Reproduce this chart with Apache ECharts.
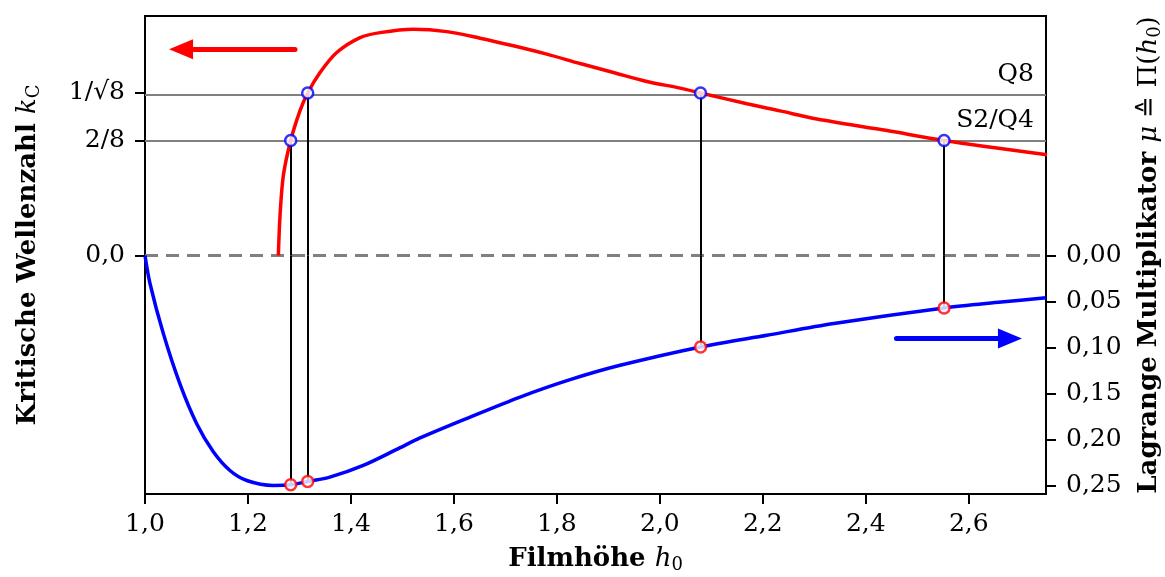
<!DOCTYPE html>
<html>
<head>
<meta charset="utf-8">
<script src="https://cdn.jsdelivr.net/npm/echarts@6/dist/echarts.min.js"></script>
<style>
html,body{margin:0;padding:0;background:#fff;}
#chart{width:1165px;height:577px;}
</style>
</head>
<body>
<div id="chart"></div>
<script>
// ---- data ----
const redX = [1.259, 1.2623, 1.2687, 1.283, 1.3011, 1.316, 1.34, 1.3724, 1.4177, 1.4565, 1.5212, 1.5861, 1.6508, 1.7155, 1.7804, 1.8451, 1.9098, 1.9747, 2.0393, 2.079, 2.169, 2.2336, 2.305, 2.4414, 2.552, 2.752];
const redK = [0, 0.0874, 0.174, 0.25, 0.315, 0.35355, 0.398, 0.4415, 0.474, 0.4848, 0.4922, 0.487, 0.4727, 0.4562, 0.438, 0.4176, 0.3981, 0.3786, 0.364, 0.35355, 0.330, 0.3145, 0.297, 0.2717, 0.25, 0.219];

const blueX = [1.0, 1.0097, 1.0356, 1.068, 1.1004, 1.1327, 1.165, 1.1976, 1.249, 1.283, 1.316, 1.359, 1.424, 1.489, 1.5342, 1.6314, 1.7285, 1.8257, 1.9228, 2.079, 2.208, 2.338, 2.552, 2.663, 2.75];
const blueMu = [0, 0.0305, 0.085, 0.140, 0.183, 0.2135, 0.2339, 0.2448, 0.2502, 0.2495, 0.2459, 0.2412, 0.2284, 0.2110, 0.1985, 0.1758, 0.154, 0.1351, 0.1195, 0.0995, 0.0868, 0.0741, 0.0572, 0.0507, 0.0459];

// marked intersection points
const markX = [1.283, 1.316, 2.079, 2.552];
const markK = [0.25, 0.35355, 0.35355, 0.25];
const markMu = [0.2495, 0.2459, 0.0995, 0.0572];

// reference lines
const hLineValues = [0.25, 0.35355];
const hLineLabels = ['S2/Q4', 'Q8'];

// ticks
const xTicks = [1.0, 1.2, 1.4, 1.6, 1.8, 2.0, 2.2, 2.4, 2.6];
const leftTicks = [0, 0.25, 0.35355];
const leftTickLabels = ['0,0', '2/8', '1/√8'];
const rightTicks = [0, 0.05, 0.10, 0.15, 0.20, 0.25];

// direction arrows (data coords)
const redArrow = [[1.2914, 0.4488], [1.070, 0.4488]];
const blueArrow = [[2.4596, 0.0904], [2.680, 0.0904]];

const FONT = 'DejaVu Serif';
const chart = echarts.init(document.getElementById('chart'), null, {renderer: 'canvas'});

const zip = (a, b) => a.map((v, i) => [v, b[i]]);

const axisCommon = {
  axisLine: {show: true, onZero: false, lineStyle: {color: '#000', width: 2}},
  splitLine: {show: false}
};
const tick = vals => ({show: true, inside: false, length: 10, lineStyle: {color: '#000', width: 2}, customValues: vals});
const richTitle = {
  b: {fontFamily: FONT, fontWeight: 'bold', fontSize: 26, color: '#000', lineHeight: 30},
  n: {fontFamily: FONT, fontSize: 26, color: '#000', lineHeight: 30},
  i: {fontFamily: FONT, fontStyle: 'italic', fontSize: 26, color: '#000', lineHeight: 30},
  sub: {fontFamily: FONT, fontSize: 18, color: '#000', lineHeight: 18, verticalAlign: 'bottom'}
};

const option = {
  animation: false,
  backgroundColor: '#fff',
  grid: {left: 145, right: 119, top: 16, bottom: 83, outerBoundsMode: 'none', containLabel: false,
         show: true, borderColor: '#000', borderWidth: 2, backgroundColor: 'transparent'},
  xAxis: {
    type: 'value', min: 1, max: 2.75,
    ...axisCommon,
    axisTick: tick(xTicks),
    axisLabel: {customValues: xTicks, margin: 18, fontFamily: FONT, fontSize: 25, color: '#000',
      formatter: v => v.toFixed(1).replace('.', ',')},
    name: '{b|Filmhöhe }{i|h}{sub|0}',
    nameLocation: 'middle', nameGap: 50,
    nameTextStyle: {rich: richTitle}
  },
  yAxis: [
    {
      type: 'value', min: -0.519, max: 0.521, position: 'left',
      ...axisCommon,
      axisTick: tick(leftTicks),
      axisLabel: {customValues: leftTicks, margin: 20, fontFamily: FONT, fontSize: 25, color: '#000',
        formatter: v => { const i = leftTicks.findIndex(t => Math.abs(t - v) < 1e-6); return i >= 0 ? leftTickLabels[i] : ''; }},
      name: '{b|Kritische Wellenzahl }{i|k}{sub|C}',
      nameLocation: 'middle', nameRotate: 90, nameGap: 102,
      nameTextStyle: {rich: richTitle}
    },
    {
      type: 'value', min: -0.2605, max: 0.2595, inverse: true, position: 'right',
      ...axisCommon,
      axisTick: tick(rightTicks),
      axisLabel: {customValues: rightTicks, margin: 20, fontFamily: FONT, fontSize: 25, color: '#000',
        formatter: v => v.toFixed(2).replace('.', ',')},
      name: '{b|Lagrange Multiplikator }{i|μ}{n| ≙ Π(}{i|h}{sub|0}{n|)}',
      nameLocation: 'middle', nameRotate: 90, nameGap: 88,
      nameTextStyle: {rich: richTitle}
    }
  ],
  series: [
    {
      name: 'kc', type: 'line', yAxisIndex: 0, z: 3,
      data: zip(redX, redK), smooth: 0.3, showSymbol: false,
      lineStyle: {color: '#ff0000', width: 3.5},
      markLine: {
        silent: true, symbol: ['none', 'none'], animation: false, z: 1,
        data: [
          ...hLineValues.map((v, i) => ({
            yAxis: v,
            lineStyle: {color: '#808080', width: 2.2, type: 'solid'},
            label: {show: true, position: 'insideEndTop', formatter: hLineLabels[i], fontFamily: FONT, fontSize: 25, color: '#000', distance: [12, 8]}
          })),
          {yAxis: 0, lineStyle: {color: '#808080', width: 3.2, type: [13, 8]}, label: {show: false}},
          ...markX.map((x, i) => [
            {coord: [x, markK[i]], lineStyle: {color: '#000', width: 2, type: 'solid'}, label: {show: false}},
            {coord: [x, 0]}
          ])
        ]
      }
    },
    {
      name: 'mu', type: 'line', yAxisIndex: 1, z: 3,
      data: zip(blueX, blueMu), smooth: 0.3, showSymbol: false,
      lineStyle: {color: '#0000ff', width: 3.5},
      markLine: {
        silent: true, symbol: ['none', 'none'], animation: false, z: 1,
        data: markX.map((x, i) => [
          {coord: [x, 0], lineStyle: {color: '#000', width: 2, type: 'solid'}, label: {show: false}},
          {coord: [x, markMu[i]]}
        ])
      }
    },
    {
      name: 'arrows-red', type: 'line', yAxisIndex: 0, data: [], z: 4,
      markLine: {
        silent: true, symbol: ['none', 'triangle'], symbolSize: [20, 24], animation: false,
        data: [[
          {coord: redArrow[0], lineStyle: {color: '#ff0000', width: 5, type: 'solid', cap: 'round'}, label: {show: false}},
          {coord: redArrow[1]}
        ]]
      }
    },
    {
      name: 'arrows-blue', type: 'line', yAxisIndex: 1, data: [], z: 4,
      markLine: {
        silent: true, symbol: ['none', 'triangle'], symbolSize: [20, 24], animation: false,
        data: [[
          {coord: blueArrow[0], lineStyle: {color: '#0000ff', width: 5, type: 'solid', cap: 'round'}, label: {show: false}},
          {coord: blueArrow[1]}
        ]]
      }
    },
    {
      name: 'ptsK', type: 'scatter', yAxisIndex: 0, z: 10,
      data: zip(markX, markK), symbol: 'circle', symbolSize: 11,
      itemStyle: {color: '#fff', borderColor: '#0000ff', borderWidth: 2.5}
    },
    {
      name: 'ptsMu', type: 'scatter', yAxisIndex: 1, z: 10,
      data: zip(markX, markMu), symbol: 'circle', symbolSize: 11,
      itemStyle: {color: '#fff', borderColor: '#ff0000', borderWidth: 2.5}
    }
  ]
};
chart.setOption(option);
</script>
</body>
</html>
